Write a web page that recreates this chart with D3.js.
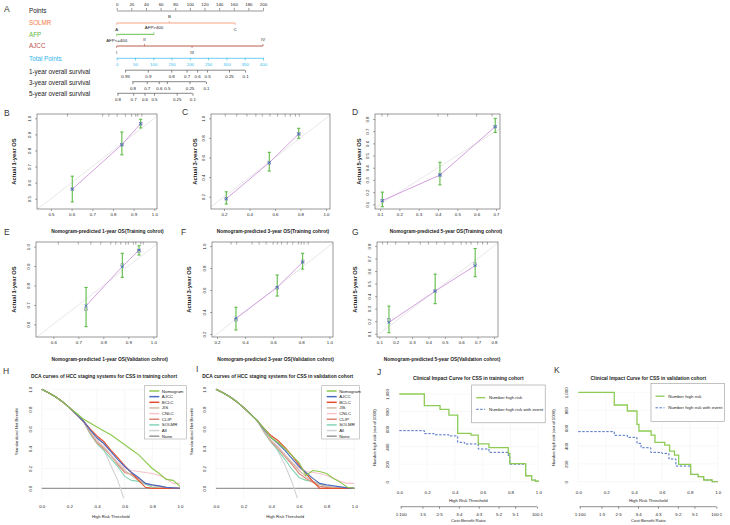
<!DOCTYPE html>
<html>
<head>
<meta charset="utf-8">
<script src="https://cdn.jsdelivr.net/npm/d3@7"></script>
<style>
body { margin: 0; background: #fff; }
svg { font-family: "Liberation Sans", Arial, sans-serif; }
</style>
</head>
<body>
<svg id="fig" width="730" height="525"></svg>
<script>
// ---------------- data ----------------
// A: nomogram
const pointsTicks = [0, 20, 40, 60, 80, 100, 120, 140, 160, 180, 200];
const totalTicks = [0, 50, 100, 150, 200, 250, 300, 350, 400];
const solmrLabels = ["A", "B", "C"],            solmrPts = [0, 72, 162];
const afpLabels = ["AFP<=400", "AFP>400"],      afpPts = [0, 51];
const ajccLabels = ["I", "II", "III", "IV"],    ajccPts = [0, 38, 103, 200];
const surv1Labels = ["0.95", "0.9", "0.8", "0.7", "0.6", "0.5", "0.25", "0.1"];
const surv1Total  = [23, 85, 149, 191, 220, 247, 307, 351];
const surv3Labels = ["0.8", "0.7", "0.6", "0.5", "0.25", "0.1"];
const surv3Total  = [43, 82, 115, 137, 199, 244];
const surv5Labels = ["0.8", "0.7", "0.6", "0.5", "0.25", "0.1"];
const surv5Total  = [2, 45, 76, 102, 164, 207];

// B-G: calibration (predicted, observed, corrected, CI, rug)
const predB = [0.603, 0.843, 0.934], obsB = [0.559, 0.836, 0.967], corrB = [0.559, 0.836, 0.965];
const ciB = [[0.48, 0.64], [0.773, 0.915], [0.94, 0.994]];
const rugB = [0.58, 0.75, 0.78, 0.82, 0.86, 0.89, 0.91, 0.92, 0.94];
const predC = [0.218, 0.555, 0.786], obsC = [0.18, 0.547, 0.84], corrC = [0.18, 0.547, 0.84];
const ciC = [[0.125, 0.25], [0.462, 0.653], [0.796, 0.898]];
const rugC = [0.21, 0.3, 0.38, 0.45, 0.5, 0.56, 0.62, 0.68, 0.72, 0.76, 0.79];
const predD = [0.112, 0.41, 0.696], obsD = [0.13, 0.34, 0.737], corrD = [0.13, 0.34, 0.737];
const ciD = [[0.08, 0.2], [0.26, 0.445], [0.69, 0.805]];
const rugD = [0.11, 0.14, 0.4, 0.45, 0.6, 0.68];
const predE = [0.731, 0.876, 0.943], obsE = [0.696, 0.897, 0.983], corrE = [0.678, 0.905, 0.978];
const ciE = [[0.588, 0.79], [0.842, 0.966], [0.957, 1.005]];
const rugE = [0.62, 0.70, 0.75, 0.79, 0.83, 0.85, 0.87, 0.89, 0.90, 0.92, 0.93, 0.95, 0.96];
const predF = [0.335, 0.629, 0.81], obsF = [0.343, 0.625, 0.852], corrF = [0.33, 0.62, 0.86];
const ciF = [[0.236, 0.443], [0.545, 0.736], [0.79, 0.934]];
const rugF = [0.3, 0.34, 0.45, 0.5, 0.55, 0.6, 0.63, 0.66, 0.7, 0.74, 0.78, 0.8, 0.82, 0.85];
const predG = [0.159, 0.441, 0.685], obsG = [0.19, 0.44, 0.643], corrG = [0.21, 0.44, 0.655];
const ciG = [[0.108, 0.32], [0.34, 0.575], [0.555, 0.78]];
const rugG = [0.12, 0.15, 0.2, 0.28, 0.35, 0.4, 0.45, 0.5, 0.55, 0.6, 0.63, 0.66, 0.7, 0.73, 0.76];

// H-I: decision curves
const dcaT = [0, 0.05, 0.1, 0.15, 0.2, 0.25, 0.3, 0.35, 0.4, 0.45, 0.5, 0.55, 0.6, 0.65, 0.7, 0.75, 0.8, 0.85, 0.9, 0.95, 1.0];
const dcaModels = ["Nomogram", "AJCC", "BCLC", "JIS", "CNLC", "CLIP", "SOLMR", "All", "None"];
const dcaH = {
  Nomogram: [1, .965, .925, .875, .815, .76, .70, .66, .62, .58, .54, .49, .44, .39, .34, .27, .20, .15, .09, .08, .02],
  AJCC:     [1, .965, .925, .875, .815, .75, .68, .59, .51, .45, .37, .29, .22, .16, .11, .05, .035, .025, .01, .005, 0],
  BCLC:     [1, .965, .925, .875, .815, .75, .68, .60, .53, .47, .385, .31, .23, .155, .08, .01, 0, 0, 0, 0, 0],
  JIS:      [1, .965, .925, .875, .815, .75, .68, .57, .47, .41, .33, .25, .18, .13, .08, .05, .03, .02, .01, 0, 0],
  CNLC:     [1, .965, .925, .875, .815, .75, .68, .58, .48, .42, .34, .26, .20, .18, .17, .16, .15, .13, .10, .05, .05],
  CLIP:     [1, .965, .925, .875, .815, .75, .68, .56, .46, .40, .33, .24, .16, .14, .10, .05, .03, .02, .005, 0, 0],
  SOLMR:    [1, .965, .925, .875, .815, .75, .68, .55, .45, .38, .30, .22, .12, .08, .07, .04, .01, 0, 0, 0, 0],
  All:      [1, .965, .925, .875, .815, .75, .68, .59, .50, .39, .23, .08, -.13, null, null, null, null, null, null, null, null],
  None:     [0, 0, 0, 0, 0, 0, 0, 0, 0, 0, 0, 0, 0, 0, 0, 0, 0, 0, 0, 0, 0]
};
const dcaI = {
  Nomogram: [1, .965, .925, .875, .815, .75, .68, .60, .51, .46, .40, .33, .26, .13, .18, .17, .15, .10, .06, .01, 0],
  AJCC:     [1, .965, .925, .875, .815, .75, .68, .59, .51, .45, .38, .30, .22, .16, .10, .05, .035, .025, .015, .005, 0],
  BCLC:     [1, .965, .925, .875, .815, .75, .68, .60, .53, .48, .41, .33, .24, .15, .07, 0, 0, 0, 0, 0, 0],
  JIS:      [1, .965, .925, .875, .815, .75, .68, .57, .48, .41, .33, .26, .18, .12, .07, .04, .02, .01, .005, 0, 0],
  CNLC:     [1, .965, .925, .875, .815, .75, .68, .58, .48, .42, .34, .26, .20, .17, .16, .15, .13, .10, .07, .05, .05],
  CLIP:     [1, .965, .925, .875, .815, .75, .68, .57, .47, .40, .32, .24, .15, .10, .06, .02, .01, 0, 0, 0, 0],
  SOLMR:    [1, .965, .925, .875, .815, .75, .68, .56, .46, .38, .29, .19, .11, .08, .07, .04, .01, 0, 0, 0, 0],
  All:      [1, .965, .925, .875, .815, .75, .68, .58, .48, .37, .23, .06, -.15, null, null, null, null, null, null, null, null],
  None:     [0, 0, 0, 0, 0, 0, 0, 0, 0, 0, 0, 0, 0, 0, 0, 0, 0, 0, 0, 0, 0]
};
const dcaTicks = [0, 0.2, 0.4, 0.6, 0.8, 1.0];

// J-K: clinical impact curves (step points)
const tJHigh  = [0, .18, .293, .357, .42, .516, .568, .645, .784, .795, .909, .952, .98, 1.0];
const nJHigh  = [1000, 867, 825, 760, 551, 532, 432, 388, 323, 205, 68, 19, 5, 0];
const tJEvent = [0, .18, .25, .357, .42, .47, .568, .645, .784, .795, .909, .952, .98, 1.0];
const nJEvent = [582, 548, 535, 522, 449, 430, 373, 335, 285, 200, 68, 19, 5, 0];
const tKHigh  = [0, .258, .352, .421, .435, .522, .55, .62, .655, .69, .72, .806, .86, .9, .96, 1.0];
const nKHigh  = [1000, 858, 791, 642, 567, 522, 440, 410, 343, 298, 194, 82, 56, 19, 0, 0];
const tKEvent = [0, .258, .352, .421, .45, .52, .6, .65, .7, .806, .86, .9, .96, 1.0];
const nKEvent = [560, 519, 496, 429, 380, 328, 317, 254, 175, 82, 56, 19, 0, 0];
const cicYTicks = [0, 200, 400, 600, 800, 1000];
const costBenefit = ["1:100", "1:5", "2:5", "3:4", "4:3", "5:2", "5:1", "100:1"];

// ---------------- drawing ----------------
const svg = d3.select("#fig");
const TXT = "#222";

function label(g, x, y, s, size, opts = {}) {
  return g.append("text")
    .attr("x", x).attr("y", y)
    .attr("dy", "0.35em")
    .attr("font-size", size)
    .attr("fill", opts.fill || TXT)
    .attr("font-weight", opts.bold ? "bold" : null)
    .attr("text-anchor", opts.anchor || "start")
    .attr("transform", opts.rotate ? `rotate(-90,${x},${y})` : null)
    .text(s);
}

// panel letters
[["A", 4, 9], ["B", 4, 113], ["C", 182, 112], ["D", 352, 112], ["E", 4, 232], ["F", 181, 232],
 ["G", 352, 232], ["H", 3, 371], ["I", 196, 369], ["J", 377, 372], ["K", 554, 370]]
  .forEach(([s, x, y]) => label(svg, x, y, s, 8.5, {fill: "#333"}));

// ---------- A ----------
(function nomogram() {
  const g = svg.append("g");
  const ptsX = d3.scaleLinear([0, 200], [116.7, 263]);
  const totX = d3.scaleLinear([0, 400], [116.7, 263]);
  const grey = "#555";

  const rows = [
    ["Points", 11, TXT], ["SOLMR", 23, "#f07a45"], ["AFP", 34.3, "#62b846"], ["AJCC", 46, "#c0504d"],
    ["Total Points", 58.3, "#2fb6ea"], ["1-year overall survival", 71.3, TXT],
    ["3-year overall survival", 82.3, TXT], ["5-year overall survival", 93.6, TXT]
  ];
  rows.forEach(([s, y, c]) => label(g, 29, y, s, 6.3, {fill: c}));

  // Points axis
  const pa = g.append("g").attr("transform", "translate(0,10.5)");
  pa.call(d3.axisTop(ptsX).tickValues(d3.range(0, 201, 10)).tickSize(1.6).tickFormat(""));
  pa.call(d3.axisTop(ptsX).tickValues(pointsTicks).tickSize(2.6).tickSizeOuter(0));
  pa.selectAll("path,line").attr("stroke", grey).attr("stroke-width", 0.6);
  pa.selectAll("text").attr("y", -6.5).attr("dy", "0.35em").attr("font-size", 4.4).attr("fill", TXT)
    .attr("font-family", "Liberation Sans, Arial, sans-serif");

  // variable lines
  function varLine(y, labs, pts, col) {
    const vg = g.append("g");
    vg.append("line").attr("x1", ptsX(0)).attr("x2", ptsX(d3.max(pts)))
      .attr("y1", y).attr("y2", y).attr("stroke", col).attr("stroke-width", 1);
    pts.forEach((p, i) => {
      const up = i % 2 === 1;
      vg.append("line").attr("x1", ptsX(p)).attr("x2", ptsX(p))
        .attr("y1", y).attr("y2", up ? y - 2 : y + 2).attr("stroke", col).attr("stroke-width", 0.7);
      label(vg, ptsX(p), up ? y - 6.5 : y + 6.5, labs[i], 4.4, {anchor: "middle"});
    });
  }
  varLine(23, solmrLabels, solmrPts, "#f3a585");
  varLine(34.3, afpLabels, afpPts, "#6cc04e");
  varLine(46, ajccLabels, ajccPts, "#b9614f");

  // Total points axis
  const cy = "#33bbee";
  const ta = g.append("g").attr("transform", "translate(0,57.8)");
  ta.call(d3.axisBottom(totX).tickValues(d3.range(0, 401, 10)).tickSize(1.5).tickFormat(""));
  ta.call(d3.axisBottom(totX).tickValues(totalTicks).tickSize(2.6).tickSizeOuter(0));
  ta.selectAll("path,line").attr("stroke", cy).attr("stroke-width", 0.7);
  ta.selectAll("text").attr("y", 6.4).attr("dy", "0.35em").attr("font-size", 4.4).attr("fill", cy)
    .attr("font-family", "Liberation Sans, Arial, sans-serif");

  // survival axes
  function survAxis(y, labs, tot) {
    const sa = g.append("g").attr("transform", `translate(0,${y})`);
    sa.call(d3.axisBottom(totX).tickValues(tot).tickSize(2.4).tickFormat((d, i) => labs[i]));
    sa.select(".domain").remove();
    sa.append("line").attr("x1", totX(d3.min(tot))).attr("x2", totX(d3.max(tot)))
      .attr("stroke", grey).attr("stroke-width", 0.8);
    sa.selectAll("line").attr("stroke", grey).attr("stroke-width", 0.7);
    sa.selectAll("text").attr("y", 6.3).attr("dy", "0.35em").attr("font-size", 4.4).attr("fill", TXT)
      .attr("font-family", "Liberation Sans, Arial, sans-serif");
  }
  survAxis(70.2, surv1Labels, surv1Total);
  survAxis(81.7, surv3Labels, surv3Total);
  survAxis(93.3, surv5Labels, surv5Total);
})();

// ---------- B-G ----------
function calib(c, pred, obs, corr, ci, rug) {
  const g = svg.append("g");
  const [bx0, by0, bx1, by1] = c.box;
  const x = d3.scaleLinear([c.xr[0], c.xr[2]], [c.xr[1], c.xr[3]]);
  const y = d3.scaleLinear([c.yr[0], c.yr[2]], [c.yr[1], c.yr[3]]);
  const id = "clip" + c.id;
  svg.append("clipPath").attr("id", id).append("rect")
    .attr("x", bx0).attr("y", by0).attr("width", bx1 - bx0).attr("height", by1 - by0);
  const inner = g.append("g").attr("clip-path", `url(#${id})`);

  inner.append("line").attr("x1", x(-1)).attr("y1", y(-1)).attr("x2", x(2)).attr("y2", y(2))
    .attr("stroke", "#e2e2e2").attr("stroke-width", 0.8);

  inner.selectAll(".rug").data(rug).join("line")
    .attr("x1", d => x(d)).attr("x2", d => x(d)).attr("y1", by0).attr("y2", by0 + 2.6)
    .attr("stroke", "#555").attr("stroke-width", 0.5);

  const pts = pred.map((p, i) => ({p, o: obs[i], c: corr[i], lo: ci[i][0], hi: ci[i][1]}));

  inner.append("path").datum(pts)
    .attr("d", d3.line().x(d => x(d.p)).y(d => y(d.o)))
    .attr("fill", "none").attr("stroke", "#cf95dc").attr("stroke-width", 0.9);

  const eb = inner.selectAll(".eb").data(pts).join("g").attr("stroke", "#5dbb46").attr("stroke-width", 1.1);
  eb.append("line").attr("x1", d => x(d.p)).attr("x2", d => x(d.p)).attr("y1", d => y(d.lo)).attr("y2", d => y(d.hi));
  eb.append("line").attr("x1", d => x(d.p) - 1.6).attr("x2", d => x(d.p) + 1.6).attr("y1", d => y(d.lo)).attr("y2", d => y(d.lo));
  eb.append("line").attr("x1", d => x(d.p) - 1.6).attr("x2", d => x(d.p) + 1.6).attr("y1", d => y(d.hi)).attr("y2", d => y(d.hi));

  inner.selectAll(".sq").data(pts).join("rect")
    .attr("x", d => x(d.p) - 1.4).attr("y", d => y(d.c) - 1.4).attr("width", 2.8).attr("height", 2.8)
    .attr("fill", "none").attr("stroke", "#8a8fa8").attr("stroke-width", 0.6);
  const mk = inner.selectAll(".mk").data(pts).join("g").attr("stroke", "#3a5bd0").attr("stroke-width", 0.8);
  mk.append("line").attr("x1", d => x(d.p) - 1.3).attr("x2", d => x(d.p) + 1.3).attr("y1", d => y(d.o) - 1.3).attr("y2", d => y(d.o) + 1.3);
  mk.append("line").attr("x1", d => x(d.p) - 1.3).attr("x2", d => x(d.p) + 1.3).attr("y1", d => y(d.o) + 1.3).attr("y2", d => y(d.o) - 1.3);

  g.append("rect").attr("x", bx0).attr("y", by0).attr("width", bx1 - bx0).attr("height", by1 - by0)
    .attr("fill", "none").attr("stroke", "#555").attr("stroke-width", 0.6);

  const fmt = d3.format(".1f");
  const xa = g.append("g").attr("transform", `translate(0,${by1})`)
    .call(d3.axisBottom(x).tickValues(c.xt).tickSize(2).tickFormat(fmt));
  xa.select(".domain").remove();
  xa.selectAll("line").attr("stroke", "#555").attr("stroke-width", 0.5);
  xa.selectAll("text").attr("y", 5.6).attr("dy", "0.35em").attr("font-size", 4.4).attr("fill", TXT)
    .attr("font-family", "Liberation Sans, Arial, sans-serif");

  const ya = g.append("g").attr("transform", `translate(${bx0},0)`)
    .call(d3.axisLeft(y).tickValues(c.yt).tickSize(2).tickFormat(fmt));
  ya.select(".domain").remove();
  ya.selectAll("line").attr("stroke", "#555").attr("stroke-width", 0.5);
  ya.selectAll("text").attr("x", 0).attr("y", -5.8).attr("dy", "0").attr("transform", "rotate(-90)")
    .attr("text-anchor", "middle").attr("font-size", 4.4).attr("fill", TXT)
    .attr("font-family", "Liberation Sans, Arial, sans-serif");

  label(g, c.xtc, by1 + 22.7, c.xlab, 4.9, {bold: true, anchor: "middle"});
  label(g, c.ytx, (by0 + by1) / 2, c.ylab, 5.8, {bold: true, anchor: "middle", rotate: true});
}

const r1 = (a, b, s) => d3.range(Math.round(a / s), Math.round(b / s) + 1).map(v => +(v * s).toFixed(2));

calib({id: "B", box: [37, 114, 157, 209], xr: [0.5, 51, 1.0, 154.3], yr: [0.5, 198.7, 1.0, 118.3],
  xt: r1(0.5, 1.0, 0.1), yt: r1(0.5, 1.0, 0.1), xtc: 107.5, ytx: 14,
  xlab: "Nomogram-predicted 1-year OS(Training cohrot)", ylab: "Actual 1-year OS"},
  predB, obsB, corrB, ciB, rugB);
calib({id: "C", box: [211, 114, 330, 209], xr: [0.2, 224, 1.0, 326], yr: [0.2, 196.7, 1.0, 118.3],
  xt: r1(0.2, 1.0, 0.2), yt: r1(0.2, 1.0, 0.2), xtc: 273, ytx: 195,
  xlab: "Nomogram-predicted  3-year OS(Training cohrot)", ylab: "Actual 3-year OS"},
  predC, obsC, corrC, ciC, rugC);
calib({id: "D", box: [375, 114, 500, 209], xr: [0.1, 380, 0.7, 496], yr: [0.1, 204.3, 0.8, 119],
  xt: r1(0.1, 0.7, 0.1), yt: r1(0.1, 0.8, 0.1), xtc: 446, ytx: 358.5,
  xlab: "Nomogram-predicted 5-year OS(Training cohrot)", ylab: "Actual 5-year OS"},
  predD, obsD, corrD, ciD, rugD);
calib({id: "E", box: [36, 242, 157, 337], xr: [0.6, 53.3, 1.0, 153.3], yr: [0.6, 324.3, 1.0, 246.7],
  xt: r1(0.6, 1.0, 0.1), yt: r1(0.6, 1.0, 0.1), xtc: 109.7, ytx: 14,
  xlab: "Nomogram-predicted 1-year OS(Validation cohrot)", ylab: "Actual 1-year OS"},
  predE, obsE, corrE, ciE, rugE);
calib({id: "F", box: [212, 242, 333, 337], xr: [0.2, 217, 1.0, 329.3], yr: [0.2, 334, 1.0, 246],
  xt: r1(0.2, 1.0, 0.2), yt: r1(0.2, 1.0, 0.2), xtc: 275.5, ytx: 188.5,
  xlab: "Nomogram-predicted 3-year OS(Validation cohrot)", ylab: "Actual 3-year OS"},
  predF, obsF, corrF, ciF, rugF);
calib({id: "G", box: [377, 242, 498, 337], xr: [0.1, 379.3, 0.8, 494], yr: [0.1, 333.7, 0.8, 246],
  xt: r1(0.1, 0.8, 0.1), yt: r1(0.1, 0.8, 0.1), xtc: 442, ytx: 355,
  xlab: "Nomogram-predicted 5-year OS(Validation cohrot)", ylab: "Actual 5-year OS"},
  predG, obsG, corrG, ciG, rugG);

// ---------- H-I ----------
const dcaColors = {Nomogram: "#8cc94e", AJCC: "#4a6cc0", BCLC: "#e4502f", JIS: "#cdbca6", CNLC: "#f9c3cb",
  CLIP: "#df8577", SOLMR: "#86d6b6", All: "#d3d3d3", None: "#999999"};

function dcaPanel(c, data) {
  const g = svg.append("g");
  const x = d3.scaleLinear([0, 1], [c.x0, c.x1]);
  const y = d3.scaleLinear([0, 1], [488.3, 389.3]);
  const id = "clip" + c.id;
  svg.append("clipPath").attr("id", id).append("rect")
    .attr("x", c.x0 - 1).attr("y", y(1.02)).attr("width", c.x1 - c.x0 + 2).attr("height", y(-0.1) - y(1.02));

  g.selectAll(".gx").data(dcaTicks).join("line")
    .attr("x1", d => x(d)).attr("x2", d => x(d)).attr("y1", y(-0.1)).attr("y2", y(1.0))
    .attr("stroke", "#efefef").attr("stroke-width", 0.5);
  g.selectAll(".gy").data(dcaTicks).join("line")
    .attr("x1", x(0)).attr("x2", x(1)).attr("y1", d => y(d)).attr("y2", d => y(d))
    .attr("stroke", "#efefef").attr("stroke-width", 0.5);

  const fmt = d3.format(".1f");
  const xa = g.append("g").attr("transform", `translate(0,${y(-0.1)})`)
    .call(d3.axisBottom(x).tickValues(dcaTicks).tickSize(0).tickFormat(fmt));
  xa.select(".domain").remove();
  xa.selectAll("text").attr("y", 506.7 - y(-0.1)).attr("dy", "0.35em").attr("font-size", 4.4).attr("fill", TXT)
    .attr("font-family", "Liberation Sans, Arial, sans-serif");
  const ya = g.append("g").attr("transform", `translate(${c.ytl},0)`)
    .call(d3.axisLeft(y).tickValues(dcaTicks).tickSize(0).tickFormat(fmt));
  ya.select(".domain").remove();
  ya.selectAll("text").attr("x", 0).attr("y", 1.6).attr("dy", "0").attr("transform", "rotate(-90)")
    .attr("text-anchor", "middle").attr("font-size", 4.4).attr("fill", TXT)
    .attr("font-family", "Liberation Sans, Arial, sans-serif");

  const inner = g.append("g").attr("clip-path", `url(#${id})`);
  const line = d3.line().defined(d => d[1] != null).x(d => x(d[0])).y(d => y(d[1]));
  dcaModels.slice().reverse().forEach(m => {
    inner.append("path").datum(dcaT.map((t, i) => [t, data[m][i]]))
      .attr("d", line).attr("fill", "none").attr("stroke", dcaColors[m])
      .attr("stroke-width", m === "None" ? 1.3 : 1.15);
  });

  label(g, c.titleX, 376, c.title, 4.9, {bold: true});
  label(g, (c.x0 + c.x1) / 2, 516.7, "High Risk Threshold", 4.2, {anchor: "middle"});
  label(g, c.ytt, 431.7, "Standardized Net Benefit", 4.2, {anchor: "middle", rotate: true});

  // legend
  const lg = g.append("g");
  lg.append("rect").attr("x", c.lx).attr("y", 385.7).attr("width", c.lw).attr("height", 53.3)
    .attr("fill", "#fff").attr("stroke", "#aaa").attr("stroke-width", 0.6);
  dcaModels.forEach((m, i) => {
    const yy = 391 + i * 5.65;
    lg.append("line").attr("x1", c.lx + 5).attr("x2", c.lx + 15).attr("y1", yy).attr("y2", yy)
      .attr("stroke", dcaColors[m]).attr("stroke-width", 1.5);
    label(lg, c.lx + 17.5, yy, m, 4.4);
  });
}

dcaPanel({id: "H", x0: 41.7, x1: 180, ytl: 28.3 + 1.6, ytt: 16.7, lx: 144.3, lw: 42, titleX: 31,
  title: "DCA curves of HCC staging systems for CSS in training cohort"}, dcaH);
dcaPanel({id: "I", x0: 216, x1: 354.3, ytl: 202.7 + 1.6, ytt: 191.7, lx: 321.7, lw: 37.8, titleX: 202.3,
  title: "DCA curves of HCC staging systems for CSS in validation cohort"}, dcaI);

// ---------- J-K ----------
function cicPanel(c, tHigh, nHigh, tEvent, nEvent) {
  const g = svg.append("g");
  const x = d3.scaleLinear([0, 1], [c.x0, c.x1]);
  const y = d3.scaleLinear([0, 1000], [481.7, c.yTop]);

  g.selectAll(".gx").data(dcaTicks).join("line")
    .attr("x1", d => x(d)).attr("x2", d => x(d)).attr("y1", y(0)).attr("y2", y(1000))
    .attr("stroke", "#f0f0f0").attr("stroke-width", 0.5);
  g.selectAll(".gy").data(cicYTicks).join("line")
    .attr("x1", x(0)).attr("x2", x(1)).attr("y1", d => y(d)).attr("y2", d => y(d))
    .attr("stroke", "#f0f0f0").attr("stroke-width", 0.5);

  const fmt = d3.format(".1f");
  const xa = g.append("g").attr("transform", `translate(0,${y(0)})`)
    .call(d3.axisBottom(x).tickValues(dcaTicks).tickSize(0).tickFormat(fmt));
  xa.select(".domain").remove();
  xa.selectAll("text").attr("y", 492.7 - y(0)).attr("dy", "0.35em").attr("font-size", 4.4).attr("fill", TXT)
    .attr("font-family", "Liberation Sans, Arial, sans-serif");
  const ya = g.append("g").attr("transform", `translate(${c.ytl},0)`)
    .call(d3.axisLeft(y).tickValues(cicYTicks).tickSize(0));
  ya.select(".domain").remove();
  ya.selectAll("text").attr("x", 0).attr("y", 1.6).attr("dy", "0").attr("transform", "rotate(-90)")
    .attr("text-anchor", "middle").attr("font-size", 4.4).attr("fill", TXT)
    .attr("font-family", "Liberation Sans, Arial, sans-serif");

  // cost:benefit axis
  const cbT = costBenefit.map(s => { const [a, b] = s.split(":").map(Number); return a / (a + b); });
  const ca = g.append("g").attr("transform", "translate(0,506.7)")
    .call(d3.axisBottom(x).tickValues(cbT).tickSize(2).tickFormat((d, i) => costBenefit[i]));
  ca.select(".domain").remove();
  ca.append("line").attr("x1", x(cbT[0])).attr("x2", x(cbT[cbT.length - 1])).attr("stroke", "#444").attr("stroke-width", 0.6);
  ca.selectAll("line").attr("stroke", "#444").attr("stroke-width", 0.6);
  ca.selectAll("text").attr("y", 7.3).attr("dy", "0.35em").attr("font-size", 4.4).attr("fill", TXT)
    .attr("font-family", "Liberation Sans, Arial, sans-serif");

  const step = d3.line().curve(d3.curveStepAfter).x(d => x(d[0])).y(d => y(d[1]));
  g.append("path").datum(tEvent.map((t, i) => [t, nEvent[i]])).attr("d", step)
    .attr("fill", "none").attr("stroke", "#4a6fc8").attr("stroke-width", 1.0).attr("stroke-dasharray", "2.4,1.6");
  g.append("path").datum(tHigh.map((t, i) => [t, nHigh[i]])).attr("d", step)
    .attr("fill", "none").attr("stroke", "#8ecb55").attr("stroke-width", 1.3);

  label(g, c.tc, 378.3, c.title, 4.9, {bold: true, anchor: "middle"});
  label(g, c.tc, 500, "High Risk Threshold", 4.3, {anchor: "middle"});
  label(g, c.tc, 520, "Cost:Benefit Ratio", 4.3, {anchor: "middle"});
  label(g, c.ytt, 437.7, "Number high risk (out of 1000)", 4.2, {anchor: "middle", rotate: true});

  const lg = g.append("g");
  lg.append("rect").attr("x", c.lx).attr("y", c.ly).attr("width", 73.5).attr("height", 37.8)
    .attr("fill", "#fff").attr("stroke", "#999").attr("stroke-width", 0.6);
  lg.append("line").attr("x1", c.lx + 4.5).attr("x2", c.lx + 13.5).attr("y1", c.ly + 12.7).attr("y2", c.ly + 12.7)
    .attr("stroke", "#8ecb55").attr("stroke-width", 1.3);
  lg.append("line").attr("x1", c.lx + 4.5).attr("x2", c.lx + 13.5).attr("y1", c.ly + 24.3).attr("y2", c.ly + 24.3)
    .attr("stroke", "#4a6fc8").attr("stroke-width", 1.0).attr("stroke-dasharray", "2.4,1.6");
  label(lg, c.lx + 17.3, c.ly + 12.7, "Number high risk", 4.4);
  label(lg, c.lx + 17.3, c.ly + 24.3, "Number high risk with event", 4.4);
}

cicPanel({x0: 399.3, x1: 538.3, yTop: 394, ytl: 385.7 + 1.6, ytt: 375, tc: 468.3, lx: 471.7, ly: 385,
  title: "Clinical Impact Curve for CSS in training cohort"}, tJHigh, nJHigh, tJEvent, nJEvent);
cicPanel({x0: 578.3, x1: 717.7, yTop: 392.3, ytl: 564.3 + 1.6, ytt: 554, tc: 648.3, lx: 651, ly: 383.5,
  title: "Clinical Impact Curve for CSS in validation cohort"}, tKHigh, nKHigh, tKEvent, nKEvent);
</script>
</body>
</html>
